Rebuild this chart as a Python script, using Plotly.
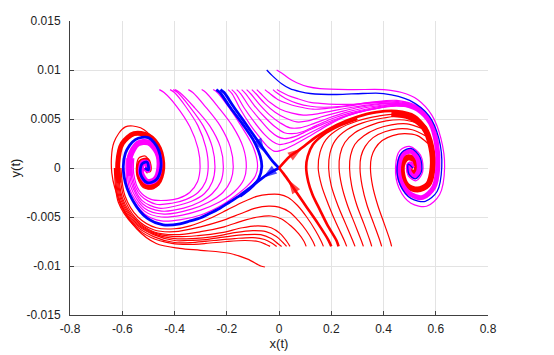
import plotly.graph_objects as go

X_TICKS = [-0.8, -0.6, -0.4, -0.2, 0, 0.2, 0.4, 0.6, 0.8]
X_TICK_TEXT = ["-0.8", "-0.6", "-0.4", "-0.2", "0", "0.2", "0.4", "0.6", "0.8"]
Y_TICKS = [-0.015, -0.01, -0.005, 0, 0.005, 0.01, 0.015]
Y_TICK_TEXT = ["-0.015", "-0.01", "-0.005", "0", "0.005", "0.01", "0.015"]

# magenta runs started on y=0.008 that wind into the left focus
MAG_LEFT = [
    [(-0.458, 0.0080), (-0.44, 0.0077), (-0.392, 0.0063), (-0.341, 0.0042), (-0.31, 0.0020), (-0.302, 0.0001),
     (-0.312, -0.0014), (-0.342, -0.0025), (-0.385, -0.0031), (-0.43, -0.0033), (-0.49, -0.0032),
     (-0.535, -0.0023), (-0.556, -0.0006), (-0.556, 0.0010)],
    [(-0.417, 0.0080), (-0.40, 0.0077), (-0.358, 0.0063), (-0.31, 0.0043), (-0.28, 0.0021), (-0.271, 0.0001),
     (-0.281, -0.0014), (-0.31, -0.0025), (-0.355, -0.0032), (-0.41, -0.0036), (-0.47, -0.0037),
     (-0.53, -0.0028), (-0.56, -0.0009), (-0.56, 0.0010)],
    [(-0.405, 0.0080), (-0.388, 0.0077), (-0.343, 0.0063), (-0.29, 0.0043), (-0.255, 0.0021), (-0.245, 0.0001),
     (-0.255, -0.0014), (-0.285, -0.0026), (-0.335, -0.0034), (-0.40, -0.0039), (-0.46, -0.0041),
     (-0.525, -0.0033), (-0.563, -0.0012), (-0.565, 0.0010)],
    [(-0.398, 0.0080), (-0.38, 0.0077), (-0.328, 0.0063), (-0.265, 0.0043), (-0.224, 0.0021), (-0.213, 0.0001),
     (-0.223, -0.0014), (-0.255, -0.0026), (-0.305, -0.0035), (-0.365, -0.0041), (-0.45, -0.0044),
     (-0.52, -0.0037), (-0.566, -0.0015), (-0.57, 0.0010)],
    [(-0.347, 0.0080), (-0.33, 0.0077), (-0.283, 0.0063), (-0.225, 0.0043), (-0.186, 0.0021), (-0.175, 0.0001),
     (-0.185, -0.0013), (-0.215, -0.0025), (-0.27, -0.0035), (-0.335, -0.0042), (-0.44, -0.0047),
     (-0.515, -0.0041), (-0.569, -0.0018), (-0.575, 0.0010)],
    [(-0.296, 0.0080), (-0.28, 0.0077), (-0.235, 0.0063), (-0.178, 0.0043), (-0.137, 0.0021), (-0.125, 0.0001),
     (-0.135, -0.0012), (-0.17, -0.0024), (-0.23, -0.0035), (-0.30, -0.0043), (-0.37, -0.0048),
     (-0.45, -0.0050), (-0.515, -0.0044), (-0.572, -0.0021), (-0.58, 0.0010)],
    [(-0.252, 0.0080), (-0.236, 0.0077), (-0.195, 0.0063), (-0.145, 0.0043), (-0.098, 0.0021), (-0.082, 0.0002),
     (-0.09, -0.0008), (-0.12, -0.0018), (-0.16, -0.0027), (-0.22, -0.0038), (-0.30, -0.0048),
     (-0.38, -0.0053), (-0.45, -0.0054), (-0.515, -0.0047), (-0.576, -0.0024), (-0.585, 0.0010)],
]

# magenta runs started on y=0.008 that pass over the saddle to the right focus
MAG_RIGHT = [
    [(-0.195, 0.0080), (-0.18, 0.0076), (-0.15, 0.0061), (-0.11, 0.0044), (-0.07, 0.0030), (-0.04, 0.0021),
     (-0.015, 0.0017), (0.02, 0.0019), (0.06, 0.0024), (0.12, 0.0033), (0.19, 0.0044), (0.26, 0.0053),
     (0.34, 0.0059), (0.45, 0.0063), (0.53, 0.0060), (0.58, 0.0046)],
    [(-0.181, 0.0080), (-0.166, 0.0076), (-0.135, 0.0062), (-0.095, 0.0047), (-0.055, 0.0034), (-0.025, 0.0027),
     (0.0, 0.0024), (0.04, 0.0026), (0.09, 0.0032), (0.15, 0.0040), (0.21, 0.0048), (0.28, 0.0055),
     (0.36, 0.0060), (0.45, 0.0064), (0.53, 0.0060), (0.58, 0.0046)],
    [(-0.162, 0.0080), (-0.147, 0.0076), (-0.115, 0.0063), (-0.075, 0.0050), (-0.035, 0.0038), (-0.005, 0.0032),
     (0.02, 0.0030), (0.06, 0.0032), (0.11, 0.0038), (0.17, 0.0045), (0.23, 0.0051), (0.30, 0.0057),
     (0.37, 0.0061), (0.45, 0.0064), (0.53, 0.0061), (0.58, 0.0046)],
    [(-0.143, 0.0080), (-0.128, 0.0076), (-0.095, 0.0064), (-0.055, 0.0052), (-0.015, 0.0042), (0.02, 0.0036),
     (0.05, 0.0035), (0.09, 0.0037), (0.14, 0.0043), (0.20, 0.0050), (0.27, 0.0056), (0.35, 0.0061),
     (0.45, 0.0065), (0.53, 0.0061), (0.58, 0.0047)],
    [(-0.124, 0.0080), (-0.109, 0.0076), (-0.075, 0.0065), (-0.035, 0.0054), (0.005, 0.0046), (0.042, 0.0041),
     (0.08, 0.0041), (0.13, 0.0045), (0.19, 0.0051), (0.26, 0.0057), (0.34, 0.0062), (0.45, 0.0065),
     (0.53, 0.0061), (0.58, 0.0047)],
    [(-0.104, 0.0080), (-0.089, 0.0076), (-0.055, 0.0066), (-0.015, 0.0057), (0.025, 0.0051), (0.068, 0.0047),
     (0.11, 0.0048), (0.16, 0.0052), (0.23, 0.0057), (0.31, 0.0062), (0.45, 0.0066), (0.53, 0.0061),
     (0.58, 0.0047)],
    [(-0.085, 0.0080), (-0.07, 0.0076), (-0.035, 0.0067), (0.005, 0.0060), (0.05, 0.0056), (0.093, 0.0054),
     (0.14, 0.0055), (0.20, 0.0058), (0.28, 0.0062), (0.36, 0.0065), (0.45, 0.0066), (0.53, 0.0061),
     (0.58, 0.0047)],
    [(-0.054, 0.0080), (-0.04, 0.0077), (-0.005, 0.0070), (0.04, 0.0065), (0.085, 0.0062), (0.13, 0.0060),
     (0.19, 0.0061), (0.26, 0.0063), (0.34, 0.0066), (0.45, 0.0067), (0.53, 0.0062), (0.58, 0.0047)],
    [(-0.023, 0.0080), (-0.01, 0.0077), (0.025, 0.0071), (0.07, 0.0066), (0.12, 0.0063), (0.17, 0.0062),
     (0.24, 0.0063), (0.32, 0.0066), (0.45, 0.0068), (0.53, 0.0062), (0.58, 0.0047)],
    [(-0.008, 0.0080), (0.005, 0.0078), (0.035, 0.0074), (0.068, 0.0071), (0.12, 0.0067), (0.157, 0.0066),
     (0.22, 0.0065), (0.284, 0.0065), (0.35, 0.0067), (0.45, 0.0069), (0.53, 0.0063), (0.58, 0.0047)],
]

# red runs started on y=-0.008 that wind into the left focus
RED_LEFT = [
    [(0.170, -0.0080), (0.162, -0.0075), (0.14, -0.0064), (0.106, -0.0050), (0.07, -0.0038), (0.035, -0.0030),
     (0.0, -0.0027), (-0.04, -0.0027), (-0.085, -0.0029), (-0.14, -0.0035), (-0.20, -0.0043), (-0.27, -0.0052),
     (-0.34, -0.0059), (-0.40, -0.0062), (-0.47, -0.0061), (-0.54, -0.0050), (-0.59, -0.0028), (-0.605, 0.0)],
    [(0.138, -0.0080), (0.13, -0.0075), (0.105, -0.0064), (0.075, -0.0054), (0.04, -0.0045), (0.0, -0.0040),
     (-0.04, -0.0039), (-0.09, -0.0041), (-0.15, -0.0047), (-0.22, -0.0054), (-0.30, -0.0060), (-0.40, -0.0065),
     (-0.48, -0.0063), (-0.545, -0.0052), (-0.595, -0.0029), (-0.61, 0.0)],
    [(0.104, -0.0080), (0.096, -0.0075), (0.075, -0.0067), (0.045, -0.0059), (0.01, -0.0052), (-0.03, -0.0049),
     (-0.08, -0.0050), (-0.14, -0.0054), (-0.21, -0.0060), (-0.30, -0.0065), (-0.40, -0.0068), (-0.48, -0.0065),
     (-0.548, -0.0053), (-0.60, -0.0030), (-0.615, 0.0)],
    [(0.042, -0.0080), (0.03, -0.0075), (0.005, -0.0067), (-0.03, -0.0061), (-0.08, -0.0059), (-0.14, -0.0061),
     (-0.22, -0.0066), (-0.31, -0.0069), (-0.40, -0.0070), (-0.48, -0.0066), (-0.55, -0.0054), (-0.603, -0.0031),
     (-0.618, 0.0)],
    [(0.029, -0.0080), (0.015, -0.0076), (-0.01, -0.0070), (-0.05, -0.0065), (-0.10, -0.0064), (-0.17, -0.0066),
     (-0.25, -0.0070), (-0.33, -0.0072), (-0.40, -0.0072), (-0.48, -0.0067), (-0.552, -0.0055), (-0.606, -0.0032),
     (-0.621, 0.0)],
    [(0.010, -0.0080), (-0.005, -0.0077), (-0.03, -0.0072), (-0.07, -0.0068), (-0.13, -0.0068), (-0.20, -0.0070),
     (-0.28, -0.0073), (-0.35, -0.0074), (-0.40, -0.0074), (-0.48, -0.0068), (-0.554, -0.0056), (-0.609, -0.0033),
     (-0.624, 0.0)],
    [(-0.009, -0.0080), (-0.025, -0.0077), (-0.055, -0.0073), (-0.10, -0.0071), (-0.17, -0.0072), (-0.25, -0.0074),
     (-0.33, -0.0076), (-0.40, -0.0076), (-0.48, -0.0070), (-0.556, -0.0057), (-0.612, -0.0034), (-0.627, 0.0)],
    [(-0.034, -0.0080), (-0.05, -0.0078), (-0.08, -0.0075), (-0.13, -0.0074), (-0.20, -0.0075), (-0.28, -0.0077),
     (-0.35, -0.0078), (-0.41, -0.0077), (-0.49, -0.0071), (-0.558, -0.0058), (-0.615, -0.0035), (-0.63, 0.0)],
]

# red runs started on y=-0.008 that rise into the right focus
RED_RIGHT = [
    [(0.259, -0.0080), (0.25, -0.0074), (0.22, -0.0057), (0.19, -0.0038), (0.163, -0.0018), (0.15, 0.0),
     (0.157, 0.0016), (0.18, 0.0029), (0.23, 0.0040), (0.30, 0.0048), (0.38, 0.0053), (0.45, 0.0055),
     (0.52, 0.0051)],
    [(0.291, -0.0080), (0.282, -0.0074), (0.255, -0.0057), (0.225, -0.0038), (0.20, -0.0018), (0.19, 0.0),
     (0.195, 0.0015), (0.215, 0.0028), (0.26, 0.0039), (0.32, 0.0046), (0.40, 0.0051), (0.47, 0.0053),
     (0.53, 0.0049)],
    [(0.323, -0.0080), (0.315, -0.0074), (0.29, -0.0057), (0.262, -0.0038), (0.24, -0.0018), (0.23, 0.0),
     (0.234, 0.0014), (0.252, 0.0026), (0.29, 0.0036), (0.345, 0.0043), (0.41, 0.0048), (0.48, 0.0049),
     (0.54, 0.0045)],
    [(0.355, -0.0080), (0.348, -0.0074), (0.325, -0.0057), (0.298, -0.0038), (0.278, -0.0018), (0.27, 0.0),
     (0.274, 0.0013), (0.29, 0.0024), (0.325, 0.0033), (0.375, 0.0040), (0.43, 0.0044), (0.49, 0.0045),
     (0.55, 0.0040)],
    [(0.393, -0.0080), (0.386, -0.0074), (0.363, -0.0057), (0.337, -0.0038), (0.318, -0.0018), (0.31, 0.0),
     (0.314, 0.0012), (0.33, 0.0022), (0.36, 0.0031), (0.405, 0.0037), (0.455, 0.0040), (0.51, 0.0039),
     (0.56, 0.0033)],
    [(0.431, -0.0080), (0.425, -0.0074), (0.403, -0.0057), (0.378, -0.0038), (0.358, -0.0018), (0.35, 0.0),
     (0.354, 0.0011), (0.368, 0.0020), (0.395, 0.0028), (0.435, 0.0033), (0.48, 0.0035), (0.53, 0.0033),
     (0.57, 0.0025)],
]

# bundles where many runs pile up round the two foci
LEFT_RED_BAND = [(-0.612, -0.0015), (-0.617, 0.0005), (-0.60, 0.0025), (-0.555, 0.0035), (-0.50, 0.0033),
                 (-0.458, 0.0020), (-0.445, 0.0), (-0.465, -0.0016), (-0.505, -0.0019), (-0.535, -0.0008),
                 (-0.53, 0.0006), (-0.505, 0.0008), (-0.497, -0.0002), (-0.513, 0.0)]
LEFT_MAG_BAND = [(-0.572, -0.0008), (-0.57, 0.0012), (-0.54, 0.0025), (-0.50, 0.0026), (-0.466, 0.0016),
                 (-0.458, 0.0), (-0.475, -0.0012), (-0.505, -0.0014), (-0.528, -0.0005), (-0.522, 0.0005),
                 (-0.505, 0.0005), (-0.503, -0.0002), (-0.513, 0.0)]
RIGHT_MAG_BAND = [(0.47, 0.0066), (0.53, 0.0060), (0.58, 0.0046), (0.603, 0.0025), (0.608, 0.0001),
                  (0.592, -0.0020), (0.55, -0.0030), (0.505, -0.0027), (0.468, -0.0015), (0.458, 0.0001),
                  (0.475, 0.0014), (0.505, 0.0017), (0.532, 0.0009), (0.535, -0.0003), (0.517, -0.0009),
                  (0.498, -0.0004), (0.50, 0.0004), (0.512, 0.0)]
RIGHT_RED_BAND = [(0.43, 0.0055), (0.50, 0.0052), (0.555, 0.0041), (0.583, 0.0021), (0.588, 0.0),
                  (0.57, -0.0017), (0.53, -0.0022), (0.49, -0.0018), (0.472, -0.0007), (0.475, 0.0006),
                  (0.495, 0.0011), (0.52, 0.0008), (0.528, -0.0001), (0.515, -0.0006), (0.50, -0.0002),
                  (0.505, 0.0003), (0.512, 0.0)]

# single runs from y=+-0.01
TOP_MAG = [(-0.009, 0.0100), (0.01, 0.0097), (0.04, 0.0091), (0.068, 0.0087), (0.11, 0.0083), (0.157, 0.0081),
           (0.28, 0.0080), (0.40, 0.0080), (0.47, 0.0077), (0.53, 0.0070), (0.585, 0.0054), (0.62, 0.0030),
           (0.634, 0.0001), (0.615, -0.0027), (0.565, -0.0039), (0.505, -0.0036), (0.46, -0.0021), (0.446, 0.0001),
           (0.463, 0.0018), (0.50, 0.0022), (0.542, 0.0013), (0.55, -0.0004), (0.525, -0.0013), (0.495, -0.0008),
           (0.49, 0.0004), (0.51, 0.0006), (0.512, 0.0)]
TOP_BLUE = [(-0.047, 0.0100), (-0.025, 0.0094), (0.01, 0.0086), (0.042, 0.0081), (0.08, 0.0078), (0.119, 0.0076),
            (0.221, 0.0075), (0.32, 0.0076), (0.40, 0.0076), (0.50, 0.0069), (0.575, 0.0053), (0.612, 0.0030),
            (0.623, 0.0001), (0.605, -0.0024), (0.56, -0.0034), (0.505, -0.0031), (0.465, -0.0018), (0.452, 0.0001),
            (0.47, 0.0016), (0.505, 0.0020), (0.54, 0.0011), (0.545, -0.0004), (0.522, -0.0011), (0.497, -0.0006),
            (0.495, 0.0004), (0.512, 0.0)]
BOTTOM_RED = [(-0.054, -0.0101), (-0.07, -0.0100), (-0.12, -0.0093), (-0.19, -0.0087), (-0.30, -0.0084),
              (-0.38, -0.0082), (-0.47, -0.0077), (-0.545, -0.0062), (-0.605, -0.0037), (-0.64, -0.0005),
              (-0.632, 0.0026), (-0.588, 0.0042), (-0.53, 0.0041), (-0.478, 0.0028), (-0.45, 0.0008),
              (-0.452, -0.0012), (-0.48, -0.0021), (-0.52, -0.0020), (-0.545, -0.0006), (-0.537, 0.0010),
              (-0.51, 0.0012), (-0.495, 0.0002), (-0.505, -0.0005), (-0.515, 0.0)]

# separatrices of the saddle at the origin
BLUE_STABLE = [(-0.224, 0.0080), (-0.21, 0.0077), (-0.175, 0.0063), (-0.13, 0.0046), (-0.085, 0.0029),
               (-0.05, 0.0016), (-0.025, 0.0007), (0.0, 0.0)]
BLUE_NEAR = [(-0.240, 0.0080), (-0.226, 0.0077), (-0.19, 0.0063), (-0.14, 0.0045), (-0.095, 0.0027),
             (-0.072, 0.0012), (-0.066, 0.0001), (-0.078, -0.0011), (-0.11, -0.0021), (-0.149, -0.0029)]
BLUE_UNSTABLE = [(0.0, 0.0), (-0.035, -0.0005), (-0.073, -0.0012), (-0.11, -0.0020), (-0.149, -0.0028),
                 (-0.19, -0.0035), (-0.226, -0.0041), (-0.27, -0.0047), (-0.302, -0.0051), (-0.34, -0.0054),
                 (-0.379, -0.0057), (-0.443, -0.0058), (-0.506, -0.0051), (-0.558, -0.0034), (-0.593, -0.0009),
                 (-0.588, 0.0015), (-0.55, 0.0029), (-0.50, 0.0031), (-0.462, 0.0019), (-0.452, 0.0001),
                 (-0.47, -0.0012), (-0.505, -0.0015), (-0.53, -0.0006), (-0.525, 0.0004), (-0.505, 0.0006),
                 (-0.50, -0.0002), (-0.513, 0.0)]
RED_STABLE = [(0.20, -0.0080), (0.19, -0.0074), (0.15, -0.0057), (0.106, -0.0040), (0.07, -0.0026),
              (0.042, -0.0015), (0.018, -0.0006), (0.0, 0.0)]
RED_NEAR = [(0.228, -0.0080), (0.22, -0.0074), (0.185, -0.0058), (0.157, -0.0043), (0.128, -0.0027),
            (0.112, -0.0014), (0.104, 0.0001), (0.11, 0.0012), (0.13, 0.0024), (0.17, 0.0034), (0.23, 0.0043),
            (0.30, 0.0050)]
RED_UNSTABLE = [(0.0, 0.0), (0.042, 0.0012), (0.08, 0.0019), (0.144, 0.0032), (0.221, 0.0044), (0.297, 0.0052),
                (0.374, 0.0057), (0.45, 0.0058), (0.52, 0.0053), (0.565, 0.0040)]

# arrowheads: (point before, tip)
BLUE_ARROWS = [[(-0.085, 0.0029), (-0.055, 0.0016)], [(-0.03, -0.0004), (-0.062, -0.0010)]]
RED_ARROWS = [[(0.07, -0.0026), (0.036, -0.0012)], [(0.05, 0.0013), (0.087, 0.0020)]]

RED = "#ff0000"
MAGENTA = "#ff00ff"
BLUE = "#0000ff"

fig = go.Figure()


def add_path(pts, color, width):
    fig.add_trace(go.Scatter(
        x=[p[0] for p in pts], y=[p[1] for p in pts],
        mode="lines", hoverinfo="skip", showlegend=False,
        line=dict(color=color, width=width, shape="spline", smoothing=0.9),
    ))


for c in RED_LEFT + RED_RIGHT:
    add_path(c, RED, 1.2)
add_path(BOTTOM_RED, RED, 1.2)
add_path(LEFT_RED_BAND, RED, 5)
add_path(RIGHT_RED_BAND, RED, 6)

for c in MAG_LEFT + MAG_RIGHT:
    add_path(c, MAGENTA, 1.2)
add_path(LEFT_MAG_BAND, MAGENTA, 6)
add_path(RIGHT_MAG_BAND, MAGENTA, 5)
add_path(TOP_MAG, MAGENTA, 1.2)
add_path(TOP_BLUE, BLUE, 1.3)

for c in (BLUE_STABLE, BLUE_NEAR, BLUE_UNSTABLE):
    add_path(c, BLUE, 2.8)
for c in (RED_STABLE, RED_NEAR, RED_UNSTABLE):
    add_path(c, RED, 2.6)

for arrows, color in ((BLUE_ARROWS, BLUE), (RED_ARROWS, RED)):
    for a in arrows:
        fig.add_trace(go.Scatter(
            x=[a[0][0], a[1][0]], y=[a[0][1], a[1][1]], mode="markers",
            hoverinfo="skip", showlegend=False,
            marker=dict(symbol="arrow", size=[0, 15], angleref="previous", color=color, line=dict(width=0)),
        ))

axis_common = dict(
    showgrid=True, gridcolor="#e3e3e3", gridwidth=1, zeroline=False,
    showline=True, linecolor="#404040", linewidth=1, mirror=False,
    ticks="inside", ticklen=4, tickcolor="#404040", automargin=False,
    tickfont=dict(family="Liberation Sans, Arial, sans-serif", size=12, color="#222222"),
)

# the page body keeps its default 8px margin, so the figure is sized to sit inside the window
fig.update_layout(
    width=546, height=347,
    margin=dict(l=62, r=66, t=13, b=40),
    paper_bgcolor="white", plot_bgcolor="white",
    font=dict(family="Liberation Sans, Arial, sans-serif", size=12, color="#222222"),
    xaxis=dict(range=[-0.8, 0.8], tickvals=X_TICKS, ticktext=X_TICK_TEXT, ticklabelstandoff=3,
               title=dict(text="x(t)", font=dict(size=13), standoff=2), **axis_common),
    yaxis=dict(range=[-0.015, 0.015], tickvals=Y_TICKS, ticktext=Y_TICK_TEXT, ticklabelstandoff=6,
               title=dict(text="y(t)", font=dict(size=13), standoff=6), **axis_common),
)

fig.write_html("out.html")
